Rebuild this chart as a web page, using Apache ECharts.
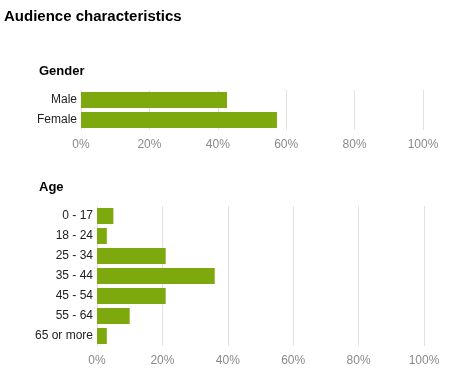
<!DOCTYPE html>
<html><head><meta charset="utf-8">
<style>html,body{margin:0;padding:0;background:#fff}#c{width:465px;height:379px}</style>
<script src="https://cdn.jsdelivr.net/npm/echarts@6/dist/echarts.min.js"></script>
</head><body><div id="c"></div>
<script>
const genderCats = ['Male', 'Female'];
const genderVals = [42.7, 57.3];
const ageCats = ['0 - 17', '18 - 24', '25 - 34', '35 - 44', '45 - 54', '55 - 64', '65 or more'];
const ageVals = [5, 3, 21, 36, 21, 10, 3];
const xTicks = [0, 20, 40, 60, 80, 100];

const chart = echarts.init(document.getElementById('c'), null, {renderer: 'canvas'});
const font = 'Liberation Sans, Arial, sans-serif';
const barColor = '#7ea90e';
function xAxis(gi) {
  return {
    type: 'value', gridIndex: gi, min: xTicks[0], max: xTicks[xTicks.length - 1], interval: xTicks[1] - xTicks[0],
    axisLine: {show: false}, axisTick: {show: false},
    splitLine: {show: true, lineStyle: {color: '#e2e2e2', width: 1}},
    axisLabel: {margin: 9, color: '#8a8a8a', fontSize: 12, fontFamily: font, formatter: v => v + '%'}
  };
}
function yAxis(gi, cats) {
  return {
    type: 'category', gridIndex: gi, data: cats, inverse: true,
    axisLine: {show: false}, axisTick: {show: false},
    axisLabel: {margin: 4, color: '#222', fontSize: 12, fontFamily: font}
  };
}
chart.setOption({
  animation: false,
  title: [
    {text: 'Audience characteristics', left: 4, top: 9, padding: 0, textStyle: {fontSize: 15, fontWeight: 'bold', color: '#000', fontFamily: font}},
    {text: 'Gender', left: 39, top: 65, padding: 0, textStyle: {fontSize: 13, fontWeight: 'bold', color: '#000', fontFamily: font}},
    {text: 'Age', left: 39, top: 181, padding: 0, textStyle: {fontSize: 13, fontWeight: 'bold', color: '#000', fontFamily: font}}
  ],
  grid: [
    {left: 81, width: 342, top: 90, height: 40},
    {left: 97, width: 327, top: 206, height: 140}
  ],
  xAxis: [xAxis(0), xAxis(1)],
  yAxis: [yAxis(0, genderCats), yAxis(1, ageCats)],
  series: [
    {type: 'bar', xAxisIndex: 0, yAxisIndex: 0, data: genderVals, barWidth: 16, itemStyle: {color: barColor}},
    {type: 'bar', xAxisIndex: 1, yAxisIndex: 1, data: ageVals, barWidth: 16, itemStyle: {color: barColor}}
  ]
});
</script></body></html>
